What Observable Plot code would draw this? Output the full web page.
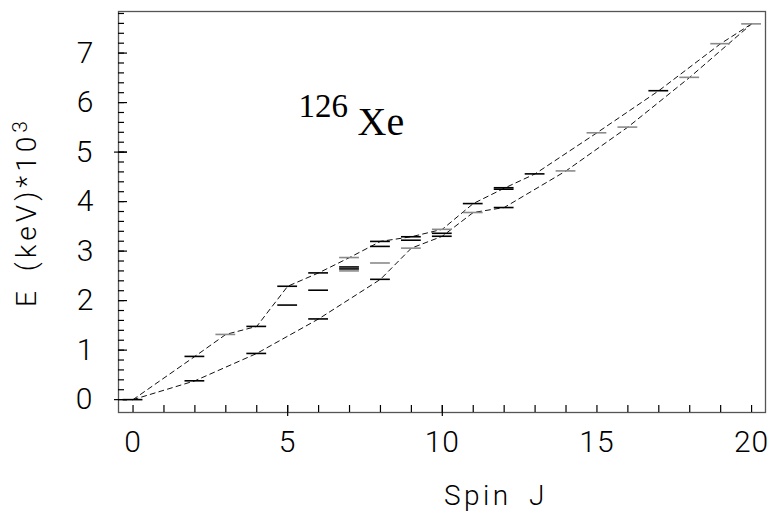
<!DOCTYPE html>
<html><head><meta charset="utf-8">
<script src="https://cdn.jsdelivr.net/npm/d3@7"></script>
<script src="https://cdn.jsdelivr.net/npm/@observablehq/plot@0.6"></script>
<style>
html,body{margin:0;padding:0;background:#fff;}
</style></head><body><div id="chart"></div>
<script>
// Level scheme of 126Xe: spin J and energy E (keV*10^3)
const levelJ = [0, 2, 2, 3, 4, 4, 5, 5, 6, 6, 6, 7, 7, 7, 7, 8, 8, 8, 8, 9, 9, 9, 10, 10, 10, 11, 11, 12, 12, 12, 13, 14, 15, 16, 17, 18, 19, 20];
const levelE = [0.00, 0.873, 0.38, 1.317, 1.479, 0.933, 2.29, 1.91, 2.56, 2.21, 1.63, 2.87, 2.68, 2.64, 2.60, 3.196, 3.095, 2.76, 2.43, 3.29, 3.22, 3.06, 3.44, 3.36, 3.30, 3.96, 3.78, 4.28, 4.25, 3.88, 4.56, 4.62, 5.39, 5.505, 6.24, 6.51, 7.19, 7.59];
const levelShade = ["dark","dark","dark","light","dark","dark","dark","dark","dark","dark","dark","light","dark","dark","light","dark","dark","light","dark","dark","dark","light","light","dark","dark","dark","light","dark","dark","dark","dark","light","light","light","dark","light","light","light"];

// dashed band sequences
const upperJ = [0, 2, 3, 4, 5, 6, 7, 8, 9, 10, 11, 12, 13, 15, 17, 19, 20];
const upperE = [0, 0.873, 1.317, 1.479, 2.29, 2.56, 2.87, 3.196, 3.29, 3.44, 3.96, 4.27, 4.56, 5.39, 6.24, 7.19, 7.59];
const lowerJ = [0, 2, 4, 6, 8, 9, 10, 11, 12, 14, 16, 18, 20];
const lowerE = [0, 0.38, 0.933, 1.63, 2.43, 3.06, 3.30, 3.78, 3.88, 4.62, 5.505, 6.51, 7.59];

// axis ticks
const xMajor = [0, 5, 10, 15, 20];
const xLabels = ["0", "5", "10", "15", "20"];
const xMinor = d3.range(0, 21, 1);
const xCross = [5, 10];
const yMajor = [0, 1, 2, 3, 4, 5, 6, 7];
const yLabels = ["0", "1", "2", "3", "4", "5", "6", "7"];
const yMinor = d3.range(1, 40).map(i => i / 5);
const yCross = [0, 5];

const xTitle = "Spin J";
const yTitleBase = "E (keV)*10";
const yTitleSup = "3";
const massNumber = "126";
const element = "Xe";

const W = 772, H = 514, mL = 118, mR = 7, mT = 11, mB = 102;
const fw = W - mL - mR, fh = H - mT - mB;
const halfW = 0.32;
const sans = "Roboto, 'Liberation Sans', sans-serif";
const serif = "'Liberation Serif', 'DejaVu Serif', serif";

const levels = levelJ.map((J, i) => ({J, E: levelE[i], shade: levelShade[i]}));
const upper = upperJ.map((J, i) => ({J, E: upperE[i]}));
const lower = lowerJ.map((J, i) => ({J, E: lowerE[i]}));

const chart = Plot.plot({
  width: W, height: H,
  marginLeft: mL, marginRight: mR, marginTop: mT, marginBottom: mB,
  x: {domain: [-0.47, 20.45], axis: null},
  y: {domain: [-0.26, 7.84], axis: null},
  style: {background: "white", fontFamily: sans, color: "black"},
  marks: [
    Plot.line(upper, {x: "J", y: "E", stroke: "#111", strokeWidth: 1, strokeDasharray: "5,4"}),
    Plot.line(lower, {x: "J", y: "E", stroke: "#111", strokeWidth: 1, strokeDasharray: "5,4"}),
    Plot.ruleY(levels.filter(d => d.shade === "light"), {y: "E", x1: d => d.J - halfW, x2: d => d.J + halfW, stroke: "#8a8a8a", strokeWidth: 1.6}),
    Plot.ruleY(levels.filter(d => d.shade === "dark"), {y: "E", x1: d => d.J - halfW, x2: d => d.J + halfW, stroke: "#000", strokeWidth: 1.6}),
    Plot.frame({stroke: "#555", strokeWidth: 1.3}),
    // x ticks (inward)
    Plot.ruleX(xMinor, {x: d => d, insetTop: fh - 7, stroke: "#000", strokeWidth: 1.2}),
    Plot.ruleX(xCross, {x: d => d, insetTop: fh - 7, insetBottom: -4, stroke: "#000", strokeWidth: 1.2}),
    // y ticks (inward)
    Plot.ruleY(yMinor, {y: d => d, insetRight: fw - 6, stroke: "#000", strokeWidth: 1.2}),
    Plot.ruleY(yMajor, {y: d => d, insetRight: fw - 9, stroke: "#000", strokeWidth: 1.2}),
    Plot.ruleY(yCross, {y: d => d, insetRight: fw - 9, insetLeft: -4, stroke: "#000", strokeWidth: 1.2}),
    // tick labels
    Plot.text(xMajor, {x: d => d, text: (d, i) => xLabels[i], frameAnchor: "bottom", dy: 30, lineAnchor: "middle", fontSize: 30, fontWeight: 300, fill: "#000"}),
    Plot.text(yMajor, {y: d => d, text: (d, i) => yLabels[i], frameAnchor: "left", dx: -25, textAnchor: "end", lineAnchor: "middle", fontSize: 30, fontWeight: 300, fill: "#000"}),
    // axis titles
    Plot.text([xTitle], {text: d => d, frameAnchor: "bottom", dx: 106, dy: 84, textAnchor: "end", lineAnchor: "middle", fontSize: 28, fontWeight: 300, fill: "#000"}),
    Plot.text([yTitleBase], {text: d => d, frameAnchor: "left", dx: -91, rotate: -90, textAnchor: "middle", lineAnchor: "middle", fontSize: 28, fontWeight: 300, fill: "#000"}),
    // nuclide label
    Plot.text([massNumber], {x: 5.35, y: 5.93, text: d => d, textAnchor: "start", lineAnchor: "middle", fontSize: 33, fontFamily: serif, fill: "#000"}),
    Plot.text([element], {x: 7.26, y: 5.61, text: d => d, textAnchor: "start", lineAnchor: "middle", fontSize: 40, fontFamily: serif, fill: "#000"})
  ]
});
const texts = d3.select(chart).selectAll("text");
// spacing like the original stroke font
texts.filter(function() { return this.textContent === xTitle; })
  .style("letter-spacing", "3.5px").style("word-spacing", "7px");
texts.filter(function() { return xLabels.includes(this.textContent); })
  .style("letter-spacing", "1px");
// superscript exponent in the y title
texts.filter(function() { return this.textContent === yTitleBase; })
  .style("letter-spacing", "4px").style("word-spacing", "5px")
  .append("tspan").attr("dy", "-0.45em").attr("font-size", "0.75em").text(yTitleSup);
document.getElementById("chart").appendChild(chart);
</script></body></html>
